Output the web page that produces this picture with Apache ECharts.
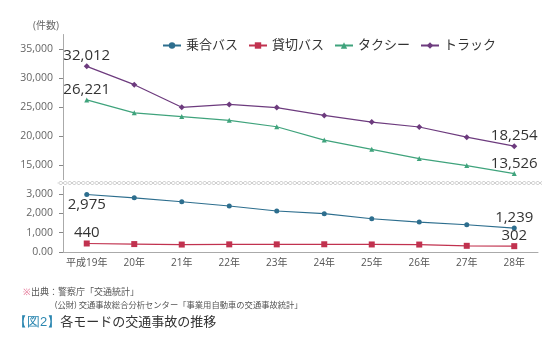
<!DOCTYPE html>
<html>
<head>
<meta charset="utf-8">
<script src="https://cdn.jsdelivr.net/npm/echarts@6/dist/echarts.min.js"></script>
<style>
  html, body { margin: 0; padding: 0; background: #fff; }
  #main { width: 560px; height: 350px; }
</style>
</head>
<body>
<div id="main"></div>
<script>
// 年度
var years = ['平成19年', '20年', '21年', '22年', '23年', '24年', '25年', '26年', '27年', '28年'];
// 件数
var busRoute = [2975, 2800, 2600, 2380, 2120, 1980, 1720, 1550, 1410, 1239];   // 乗合バス
var busCharter = [440, 410, 385, 395, 395, 400, 390, 385, 320, 302];           // 貸切バス
var taxi = [26221, 24000, 23350, 22700, 21600, 19300, 17700, 16100, 14900, 13526];
var truck = [32012, 28850, 24950, 25450, 24900, 23550, 22400, 21550, 19800, 18254];
// 目盛
var upperTicks = [15000, 20000, 25000, 30000, 35000];
var lowerTicks = [0, 1000, 2000, 3000];

var FONT = "'Open Sans', 'Noto Sans CJK JP', sans-serif";

function fmt(v) {
    if (v === 0) return '0.00';
    return v.toLocaleString('en-US');
}

// 最初と最後の点だけラベルを出す
function withEnds(values, firstPos, lastPos) {
    var last = values.length - 1;
    return values.map(function (v, i) {
        if (i === 0 || i === last) {
            return {
                value: v,
                label: {
                    show: true,
                    position: i === 0 ? firstPos : lastPos,
                    distance: 0,
                    fontSize: 15,
                    color: '#333',
                    fontFamily: FONT,
                    formatter: function (p) { return fmt(p.value); }
                }
            };
        }
        return v;
    });
}

// 省略線（波線）
function wave(y, phase) {
    var pts = [];
    for (var x = 58; x <= 542; x += 1) {
        pts.push([x, y + 1.6 * Math.sin((x / 9) * Math.PI * 2 + phase)]);
    }
    return pts;
}

var myChart = echarts.init(document.getElementById('main'));

var option = {
    backgroundColor: '#fff',
    animation: false,
    textStyle: { fontFamily: FONT },
    legend: {
        left: 157,
        top: 34,
        itemWidth: 18,
        itemHeight: 8,
        itemGap: 10,
        textStyle: { fontSize: 13, color: '#333', fontFamily: FONT },
        data: ['乗合バス', '貸切バス', 'タクシー', 'トラック']
    },
    grid: [
        { left: 63, right: 22, top: 34.5, height: 159.5 },
        { left: 63, right: 22, top: 194, height: 58 }
    ],
    xAxis: [
        {
            type: 'category', gridIndex: 0, data: years, boundaryGap: true,
            show: false
        },
        {
            type: 'category', gridIndex: 1, data: years, boundaryGap: true,
            axisLine: { lineStyle: { color: '#aaa', width: 1 } },
            axisTick: { alignWithLabel: true, length: 4, interval: 0, lineStyle: { color: '#888' } },
            axisLabel: { fontSize: 10, color: '#555', margin: 6, interval: 0 }
        }
    ],
    yAxis: [
        {
            type: 'value', gridIndex: 0, min: 10000, max: 37500,
            splitLine: { show: false },
            axisLine: { show: true, lineStyle: { color: '#aaa', width: 1 } },
            axisTick: { show: true, length: 4, customValues: upperTicks, lineStyle: { color: '#888' } },
            axisLabel: {
                customValues: upperTicks, fontSize: 10.5, color: '#666', margin: 10,
                formatter: function (v) { return fmt(v); }
            }
        },
        {
            type: 'value', gridIndex: 1, min: 0, max: 3000, interval: 1000,
            splitLine: { show: false },
            axisLine: { show: true, lineStyle: { color: '#aaa', width: 1 } },
            axisTick: { show: true, length: 4, lineStyle: { color: '#888' } },
            axisLabel: {
                fontSize: 10.5, color: '#666', margin: 10,
                formatter: function (v) { return fmt(v); }
            }
        }
    ],
    series: [
        {
            name: '乗合バス', type: 'line', xAxisIndex: 1, yAxisIndex: 1,
            data: withEnds(busRoute, 'bottom', 'top'),
            symbol: 'circle', symbolSize: 5,
            itemStyle: { color: '#2d6e8e' }, lineStyle: { width: 1.2, color: '#2d6e8e' }
        },
        {
            name: '貸切バス', type: 'line', xAxisIndex: 1, yAxisIndex: 1,
            data: withEnds(busCharter, 'top', 'top'),
            symbol: 'rect', symbolSize: 6,
            itemStyle: { color: '#c1324f' }, lineStyle: { width: 1.2, color: '#c1324f' }
        },
        {
            name: 'タクシー', type: 'line', xAxisIndex: 0, yAxisIndex: 0,
            data: withEnds(taxi, 'top', 'top'),
            symbol: 'triangle', symbolSize: 5,
            itemStyle: { color: '#3fa37c' }, lineStyle: { width: 1.2, color: '#3fa37c' }
        },
        {
            name: 'トラック', type: 'line', xAxisIndex: 0, yAxisIndex: 0,
            data: withEnds(truck, 'top', 'top'),
            symbol: 'diamond', symbolSize: 6,
            itemStyle: { color: '#6d3b7e' }, lineStyle: { width: 1.2, color: '#6d3b7e' }
        }
    ],
    graphic: [
        { type: 'text', left: 33, top: 21, style: { text: '(件数)', fontSize: 10, fill: '#666', fontFamily: FONT } },
        { type: 'rect', shape: { x: 56, y: 180, width: 490, height: 6 }, style: { fill: '#fff' }, z: 50 },
        { type: 'polyline', shape: { points: wave(183, 0) }, style: { stroke: '#c4c4c4', lineWidth: 0.8, fill: null }, z: 51 },
        { type: 'polyline', shape: { points: wave(183, Math.PI) }, style: { stroke: '#c4c4c4', lineWidth: 0.8, fill: null }, z: 51 },
        {
            type: 'text', left: 23, top: 288,
            style: {
                text: '{m|※}出典：警察庁「交通統計」',
                fontSize: 9, fill: '#555', fontFamily: FONT,
                rich: { m: { fill: '#e36a8e', fontSize: 9 } }
            }
        },
        {
            type: 'text', left: 55, top: 301,
            style: {
                text: '(公財) 交通事故総合分析センター「事業用自動車の交通事故統計」',
                fontSize: 8.3, fill: '#555', fontFamily: FONT
            }
        },
        {
            type: 'text', left: 14, top: 316,
            style: {
                text: '{b|【図2】}各モードの交通事故の推移',
                fontSize: 13, fill: '#333', fontFamily: FONT,
                rich: { b: { fill: '#2a86b0', fontSize: 13 } }
            }
        }
    ]
};

myChart.setOption(option, true);
window.addEventListener('resize', function () {
    myChart.resize();
});
</script>
</body>
</html>
